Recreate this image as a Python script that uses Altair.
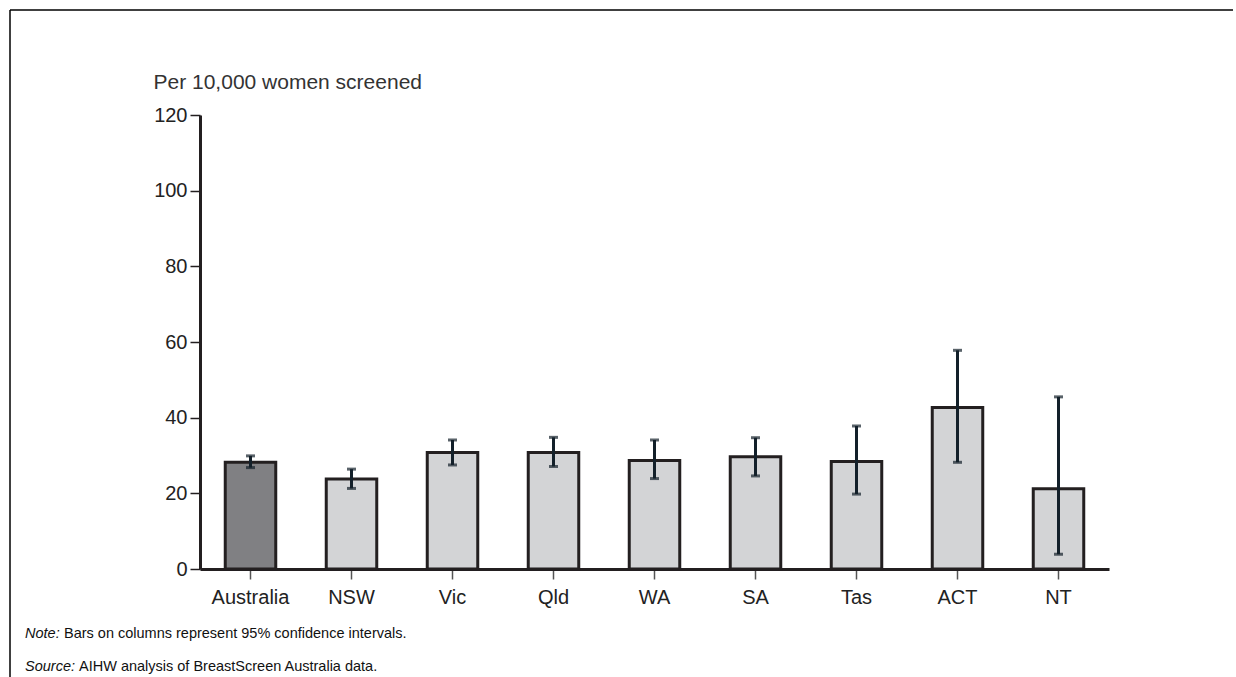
import altair as alt
import pandas as pd

# Breast cancer detection rates by jurisdiction, with 95% confidence intervals
jurisdictions = ["Australia", "NSW", "Vic", "Qld", "WA", "SA", "Tas", "ACT", "NT"]
rates = [28.2, 23.8, 30.8, 30.8, 28.7, 29.7, 28.4, 42.7, 21.2]
ci_low = [26.8, 21.3, 27.5, 27.1, 23.9, 24.6, 19.8, 28.2, 3.9]
ci_high = [29.9, 26.4, 34.1, 34.8, 34.1, 34.7, 37.8, 57.8, 45.5]
y_ticks = [0, 20, 40, 60, 80, 100, 120]

FONT = "Liberation Sans"
INK = "#231f20"

df = pd.DataFrame({
    "jurisdiction": jurisdictions,
    "rate": rates,
    "low": ci_low,
    "high": ci_high,
    "group": ["national" if j == "Australia" else "state" for j in jurisdictions],
})

x_enc = alt.X(
    "jurisdiction:N",
    sort=jurisdictions,
    scale=alt.Scale(paddingInner=0.5, paddingOuter=0.25),
    axis=alt.Axis(
        title=None, labelAngle=0, labelFontSize=20, labelFont=FONT,
        labelColor="#222222", labelPadding=8, tickSize=10, tickWidth=1.5,
        tickColor="#555555", domainWidth=3, domainColor=INK,
    ),
)
y_scale = alt.Scale(domain=[0, 120], nice=False)

base = alt.Chart(df)

bars = base.mark_bar(stroke=INK, strokeWidth=3).encode(
    x=x_enc,
    y=alt.Y(
        "rate:Q",
        scale=y_scale,
        axis=alt.Axis(
            values=y_ticks, grid=False, title="Per 10,000 women screened",
            titleAngle=0, titleX=-47, titleY=-27, titleAlign="left",
            titleBaseline="alphabetic", titleFontSize=21, titleFont=FONT,
            titleFontWeight="normal", titleColor="#333333",
            labelFontSize=20, labelFont=FONT, labelColor="#222222",
            labelPadding=3, tickSize=10, tickWidth=1.5, tickColor=INK,
            domainWidth=3, domainColor=INK,
        ),
    ),
    color=alt.Color(
        "group:N",
        scale=alt.Scale(domain=["national", "state"], range=["#808083", "#d3d4d6"]),
        legend=None,
    ),
)

whiskers = base.mark_rule(color="#13202a", strokeWidth=3).encode(
    x=alt.X("jurisdiction:N", sort=jurisdictions),
    y=alt.Y("low:Q", scale=y_scale),
    y2="high:Q",
)
caps_low = base.mark_tick(color="#13202a", size=9, thickness=3).encode(
    x=alt.X("jurisdiction:N", sort=jurisdictions),
    y=alt.Y("low:Q", scale=y_scale),
)
caps_high = base.mark_tick(color="#13202a", size=9, thickness=3).encode(
    x=alt.X("jurisdiction:N", sort=jurisdictions),
    y=alt.Y("high:Q", scale=y_scale),
)

one = alt.Chart(pd.DataFrame({"k": [0]}))

# Frame around the figure (top and left edges only)
frame_top = one.mark_rule(color="#000000", strokeWidth=1.5).encode(
    x=alt.value(-190), x2=alt.value(1033), y=alt.value(-105)
)
frame_left = one.mark_rule(color="#000000", strokeWidth=1.5).encode(
    x=alt.value(-190), y=alt.value(-105), y2=alt.value(570)
)

# Footnotes
note_style = dict(align="left", baseline="alphabetic", fontSize=14.5, font=FONT, color="#111111")
note_label = one.mark_text(fontStyle="italic", **note_style).encode(
    x=alt.value(-175), y=alt.value(523), text=alt.value("Note:")
)
note_text = one.mark_text(**note_style).encode(
    x=alt.value(-136), y=alt.value(523),
    text=alt.value("Bars on columns represent 95% confidence intervals."),
)
source_label = one.mark_text(fontStyle="italic", **note_style).encode(
    x=alt.value(-175), y=alt.value(556), text=alt.value("Source:")
)
source_text = one.mark_text(**note_style).encode(
    x=alt.value(-121), y=alt.value(556),
    text=alt.value("AIHW analysis of BreastScreen Australia data."),
)

chart = alt.layer(
    bars, whiskers, caps_low, caps_high,
    frame_top, frame_left, note_label, note_text, source_label, source_text,
).properties(
    width=909,
    height=454,
    autosize=alt.AutoSizeParams(type="none"),
    padding={"left": 200, "top": 115, "right": 127, "bottom": 108},
    background="white",
).configure_view(stroke=None)

chart.save("out.html", embed_options={"renderer": "svg", "actions": False})
